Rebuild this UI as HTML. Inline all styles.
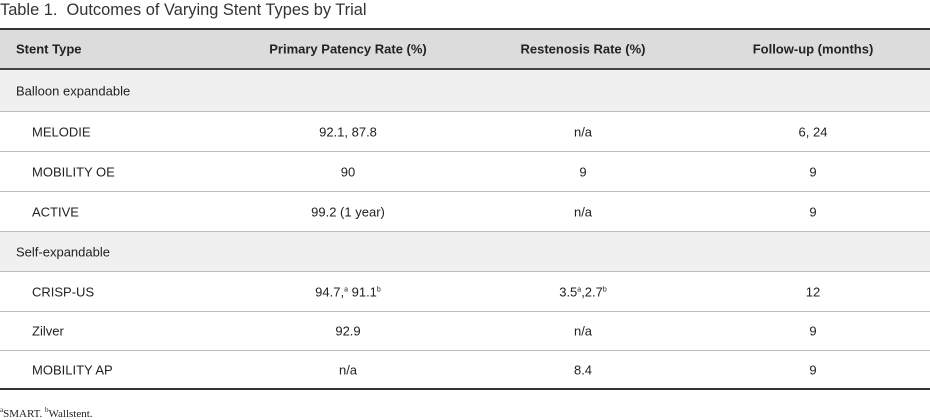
<!DOCTYPE html>
<html><head><style>
body{margin:0;width:930px;height:419px;background:#fff;font-family:"Liberation Sans",Arial,sans-serif;color:#222;position:relative;overflow:hidden}
.t{position:absolute;left:0;top:1px;font-size:16.4px;color:#333;white-space:nowrap}
.r{position:absolute;left:0;width:930px;font-size:13px}
.r span{position:absolute;top:50%;transform:translate(-50%,-50%);white-space:nowrap}
.r span.l{transform:translateY(-50%)}
.ln{position:absolute;left:0;width:930px;height:1px;background:#bdbdbd}
sup{font-size:7px;vertical-align:5px}
.f{position:absolute;left:0;top:406px;font-family:"Liberation Serif",serif;font-size:11px}
</style></head><body>
<div class="t">Table 1.&nbsp; Outcomes of Varying Stent Types by Trial</div>
<div style="position:absolute;left:0;top:28px;width:930px;height:2px;background:#333"></div>
<div class="r" style="top:30px;height:38px;background:#dcdcdc;font-weight:bold">
<span class="l" style="left:16px">Stent Type</span><span style="left:348px">Primary Patency Rate (%)</span><span style="left:583px">Restenosis Rate (%)</span><span style="left:813px">Follow-up (months)</span></div>
<div style="position:absolute;left:0;top:68px;width:930px;height:2px;background:#444"></div>
<div class="r" style="top:70px;height:41px;background:#f0f0f0"><span class="l" style="left:16px">Balloon expandable</span></div>
<div class="ln" style="top:111px"></div>
<div class="r" style="top:112px;height:39px"><span class="l" style="left:32px">MELODIE</span><span style="left:348px">92.1, 87.8</span><span style="left:583px">n/a</span><span style="left:813px">6, 24</span></div>
<div class="ln" style="top:151px"></div>
<div class="r" style="top:152px;height:39px"><span class="l" style="left:32px">MOBILITY OE</span><span style="left:348px">90</span><span style="left:583px">9</span><span style="left:813px">9</span></div>
<div class="ln" style="top:191px"></div>
<div class="r" style="top:192px;height:39px"><span class="l" style="left:32px">ACTIVE</span><span style="left:348px">99.2 (1 year)</span><span style="left:583px">n/a</span><span style="left:813px">9</span></div>
<div class="ln" style="top:231px"></div>
<div class="r" style="top:232px;height:39px;background:#f0f0f0"><span class="l" style="left:16px">Self-expandable</span></div>
<div class="ln" style="top:271px"></div>
<div class="r" style="top:272px;height:39px"><span class="l" style="left:32px">CRISP-US</span><span style="left:348px">94.7,<sup>a</sup> 91.1<sup>b</sup></span><span style="left:583px">3.5<sup>a</sup>,2.7<sup>b</sup></span><span style="left:813px">12</span></div>
<div class="ln" style="top:311px"></div>
<div class="r" style="top:312px;height:38px"><span class="l" style="left:32px">Zilver</span><span style="left:348px">92.9</span><span style="left:583px">n/a</span><span style="left:813px">9</span></div>
<div class="ln" style="top:350px"></div>
<div class="r" style="top:351px;height:37px"><span class="l" style="left:32px">MOBILITY AP</span><span style="left:348px">n/a</span><span style="left:583px">8.4</span><span style="left:813px">9</span></div>
<div style="position:absolute;left:0;top:388px;width:930px;height:2px;background:#333"></div>
<div class="f"><sup>a</sup>SMART. <sup>b</sup>Wallstent.</div>
</body></html>
